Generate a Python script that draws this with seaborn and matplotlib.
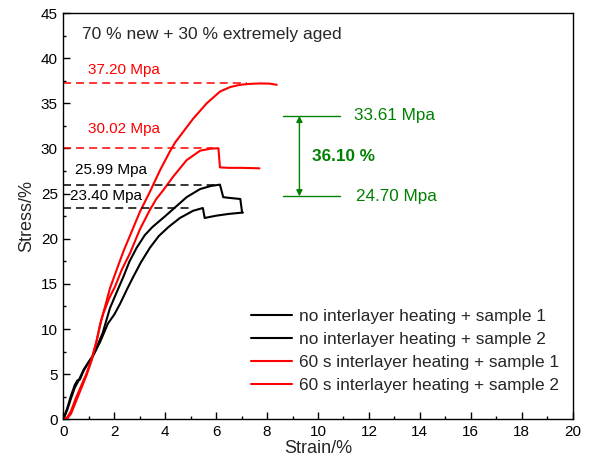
import numpy as np
import pandas as pd
import matplotlib
matplotlib.use("Agg")
import matplotlib.pyplot as plt
import seaborn as sns
from matplotlib.lines import Line2D
from matplotlib.ticker import MultipleLocator

# ---- tensile curves (strain %, stress) ----
black1_x = [0, 0.15, 0.3, 0.45, 0.55, 0.65, 0.8, 0.95, 1.1, 1.3, 1.55, 1.83, 2.1, 2.36,
            2.6, 2.88, 3.2, 3.5, 3.75, 4.0, 4.4, 4.84, 5.37, 5.8, 6.15, 6.28, 6.6, 6.95, 7.02]
black1_y = [0, 1.2, 2.6, 3.8, 4.3, 4.4, 5.4, 6.1, 6.6, 7.9, 9.6, 12.3, 14.1, 15.8,
            17.5, 19.0, 20.4, 21.3, 21.9, 22.5, 23.5, 24.6, 25.5, 25.85, 25.99, 24.6, 24.5,
            24.4, 22.9]

black2_x = [0, 0.15, 0.3, 0.45, 0.6, 0.8, 1.0, 1.2, 1.45, 1.75, 2.0, 2.23, 2.5, 2.75,
            3.05, 3.4, 3.75, 4.13, 4.58, 5.1, 5.48, 5.55, 6.0, 6.5, 7.05]
black2_y = [0, 1.0, 2.3, 3.5, 4.3, 5.5, 6.4, 7.2, 8.6, 10.6, 11.6, 12.8, 14.4, 15.8,
            17.4, 19.0, 20.3, 21.3, 22.3, 23.1, 23.40, 22.3, 22.55, 22.75, 22.9]

red1_x = [0, 0.15, 0.3, 0.5, 0.7, 0.9, 1.1, 1.3, 1.51, 1.65, 1.83, 2.1, 2.36, 2.7, 3.01,
          3.4, 3.8, 4.19, 4.4, 4.75, 5.1, 5.63, 6.15, 6.55, 6.94, 7.3, 7.72, 8.1, 8.38]
red1_y = [0, 0.2, 0.9, 2.4, 3.7, 5.0, 6.6, 8.6, 11.2, 12.6, 14.5, 16.6, 18.6, 20.9, 23.0,
          25.2, 27.6, 29.7, 30.7, 32.0, 33.3, 35.0, 36.3, 36.8, 37.05, 37.15, 37.20, 37.18,
          37.05]

red2_x = [0, 0.15, 0.3, 0.5, 0.7, 0.9, 1.1, 1.3, 1.45, 1.57, 1.8, 2.03, 2.3, 2.62, 3.0,
          3.4, 3.65, 3.93, 4.32, 4.84, 5.37, 5.8, 6.09, 6.15, 6.5, 7.0, 7.7]
red2_y = [0, 0.1, 0.6, 2.0, 3.4, 4.8, 6.4, 8.6, 10.6, 11.7, 13.4, 14.7, 16.6, 18.4, 21.0,
          23.2, 24.4, 25.4, 26.9, 28.7, 29.75, 29.98, 30.02, 27.9, 27.85, 27.85, 27.8]

series_names = ["no interlayer heating + sample 1",
                "no interlayer heating + sample 2",
                "60 s interlayer heating + sample 1",
                "60 s interlayer heating + sample 2"]
series_colors = ["black", "black", "#ff0000", "#ff0000"]

# ---- peak stress labels ----
peak_values = [37.20, 30.02, 25.99, 23.40]
peak_colors = ["#ff0000", "#ff0000", "black", "black"]
peak_line_end = [7.2, 5.88, 6.1, 5.0]
peak_label_x = [0.98, 0.98, 0.47, 0.27]
peak_label_y = [38.7, 32.1, 27.6, 24.7]

# ---- strength comparison ----
compare_top = 33.61
compare_bottom = 24.70
compare_pct = 36.10

frames = []
for name, xs, ys in zip(series_names,
                        [black1_x, black2_x, red1_x, red2_x],
                        [black1_y, black2_y, red1_y, red2_y]):
    frames.append(pd.DataFrame({"strain": xs, "stress": ys, "series": name}))
df = pd.concat(frames, ignore_index=True)

sns.set_theme(style="ticks")
plt.rcParams["font.family"] = ["Liberation Sans", "DejaVu Sans"]
plt.rcParams["lines.scale_dashes"] = False
plt.rcParams["lines.solid_joinstyle"] = "round"

fig = plt.figure(figsize=(5.89, 4.65), dpi=100)
ax = fig.add_axes([0.1075, 0.0983, 0.8648, 0.8737])

sns.lineplot(data=df, x="strain", y="stress", hue="series", units="series",
             estimator=None, sort=False, palette=dict(zip(series_names, series_colors)),
             linewidth=1.5, legend=False, ax=ax)

dash = (0, (5.8, 3.6))
for val, col, xe, lx, ly in zip(peak_values, peak_colors, peak_line_end,
                                peak_label_x, peak_label_y):
    ax.plot([0, xe], [val, val], color=col, lw=1.1, linestyle=dash)
    ax.text(lx, ly, f"{val:.2f} Mpa", color=col, fontsize=11, va="center", ha="left")

green = "#008000"
ax.plot([8.62, 10.87], [compare_top, compare_top], color=green, lw=1.0)
ax.plot([8.62, 10.87], [compare_bottom, compare_bottom], color=green, lw=1.0)
ax.annotate("", xy=(9.27, compare_top), xytext=(9.27, compare_bottom),
            arrowprops=dict(arrowstyle="<|-|>", color=green, lw=1.0,
                            mutation_scale=9, shrinkA=0, shrinkB=0))
ax.text(11.4, compare_top, f"{compare_top:.2f} Mpa", color=green, fontsize=12.3,
        va="center", ha="left")
ax.text(11.5, compare_bottom, f"{compare_bottom:.2f} Mpa", color=green, fontsize=12.3,
        va="center", ha="left")
ax.text(9.77, 29.1, f"{compare_pct:.2f} %", color=green, fontsize=12.3,
        fontweight="bold", va="center", ha="left")

ax.text(0.75, 42.6, "70 % new + 30 % extremely aged", fontsize=12.5,
        va="center", ha="left")

handles = [Line2D([], [], color=c, lw=1.5) for c in series_colors]
ax.legend(handles, series_names, loc="upper left", bbox_to_anchor=(0.3685, 0.272),
          frameon=False, fontsize=12.4, handlelength=2.4, handletextpad=0.4,
          labelspacing=0.47, borderpad=0, borderaxespad=0)

ax.set_xlim(0, 20)
ax.set_ylim(0, 45)
ax.xaxis.set_major_locator(MultipleLocator(2))
ax.xaxis.set_minor_locator(MultipleLocator(1))
ax.yaxis.set_major_locator(MultipleLocator(5))
ax.yaxis.set_minor_locator(MultipleLocator(2.5))
ax.tick_params(which="both", direction="in", top=False, right=False, width=1.0,
               labelsize=11, colors="black")
ax.tick_params(which="major", length=5, pad=4)
ax.tick_params(which="minor", length=2.5)
for s in ax.spines.values():
    s.set_visible(True)
    s.set_linewidth(1.0)
    s.set_color("black")

ax.set_xlabel("Strain/%", fontsize=13, labelpad=1)
ax.set_ylabel("Stress/%", fontsize=13, labelpad=4)

fig.savefig("out.png", dpi=100)
